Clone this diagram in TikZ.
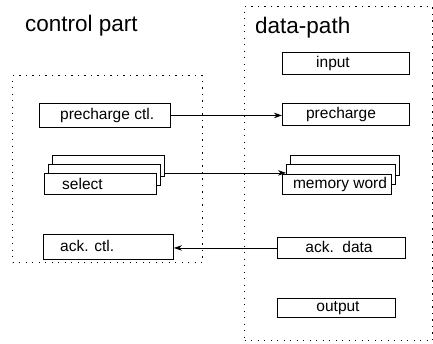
\documentclass[tikz,border=0pt]{standalone}
\usepackage{fontspec}
\setmainfont{Liberation Sans}
\usetikzlibrary{arrows.meta,calc}
\begin{document}
\begin{tikzpicture}[x=1pt,y=-1pt,
  box/.style={draw, line width=0.9pt, fill=white, inner sep=0pt, anchor=north west},
  lbl/.style={font=\fontsize{15.5}{18}\selectfont, inner sep=0pt},
  title/.style={font=\fontsize{22.5}{26}\selectfont, inner sep=0pt, anchor=base west},
  region/.style={draw, line width=1.3pt, dash pattern=on 1.3pt off 5.2pt, inner sep=0pt, anchor=north west},
  conn/.style={line width=0.8pt, -{Stealth[length=8pt,width=5.5pt,inset=2.5pt]}}]
\useasboundingbox (0,0) rectangle (433,343);

% regions
\node[region, minimum width=190pt, minimum height=187pt] (ctl) at (12,75) {};
\node[region, minimum width=188pt, minimum height=334pt] (dp) at (244,6) {};
\node[title] (ctltitle) at (25,31) {control part};
\node[title] (dptitle) at (255,33) {data-path};

% control part
\node[box, minimum width=131pt, minimum height=24pt] (pcc) at (39,103) {};
\node[lbl, anchor=west] (pcctxt) at (60,115) {precharge ctl.};

\node[box, minimum width=112pt, minimum height=21pt] (sel3) at (52,155) {};
\node[box, minimum width=112pt, minimum height=21pt] (sel2) at (48,164) {};
\node[box, minimum width=112pt, minimum height=21pt] (sel1) at (44,173) {};
\node[lbl, anchor=west] (seltxt) at (62,184) {select};

\node[box, minimum width=130pt, minimum height=25pt] (ac) at (43,234) {};
\node[lbl, anchor=west] (actxt) at (60,246) {ack. ctl.};

% data-path
\node[box, minimum width=127pt, minimum height=22pt] (in) at (282,52) {};
\node[lbl] (intxt) at (333,63) {input};

\node[box, minimum width=127pt, minimum height=22pt] (pc) at (282,103) {};
\node[lbl] (pctxt) at (341,114) {precharge};

\node[box, minimum width=109pt, minimum height=20pt] (mw3) at (290,155) {};
\node[box, minimum width=109pt, minimum height=20pt] (mw2) at (286,164) {};
\node[box, minimum width=109pt, minimum height=20pt] (mw1) at (282,174) {};
\node[lbl] (mwtxt) at (340,184) {memory word};

\node[box, minimum width=128pt, minimum height=21pt] (ad) at (277,237) {};
\node[lbl] (adtxt) at (339,247) {ack.\ \ data};

\node[box, minimum width=118pt, minimum height=19pt] (out) at (277,298) {};
\node[lbl] (outtxt) at (338,308) {output};

% connectors
\coordinate (selout) at ($(sel3.south east)+(0,-4)$);
\coordinate (mwin) at (selout -| mw2.west);
\draw[conn] (pcc.east) -- (pcc.east -| pc.west);
\draw[conn] (selout) -- (mwin);
\draw[conn] (ad.west) -- (ad.west -| ac.east);
\end{tikzpicture}
\end{document}
